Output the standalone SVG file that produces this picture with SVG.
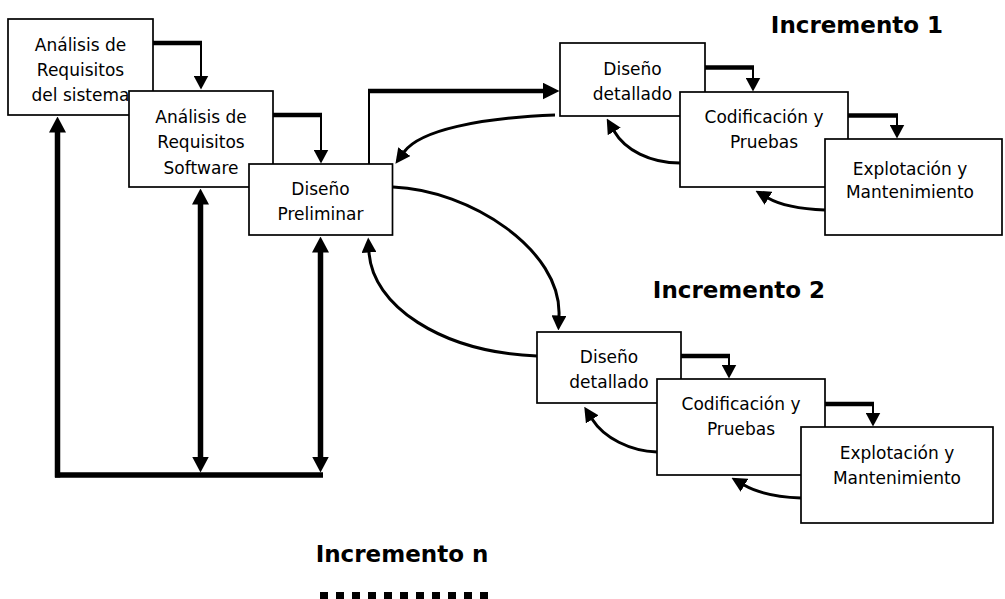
<svg xmlns="http://www.w3.org/2000/svg" width="1005" height="599" viewBox="0 0 1005 599">
<style>
.box{fill:#fff;stroke:#000;stroke-width:1.7}
.lbl{font-family:"DejaVu Sans",sans-serif;font-size:17px;text-anchor:middle;fill:#000}
.hd{font-family:"DejaVu Sans",sans-serif;font-weight:bold;font-size:23px;text-anchor:middle;fill:#000}
.thick{stroke:#000;stroke-width:4.5;fill:none}
.thin{stroke:#000;stroke-width:2;fill:none}
.curve{stroke:#000;stroke-width:3;fill:none}
.fb{stroke:#000;stroke-width:5.5;fill:none}
</style>
<defs>
<marker id="as" markerUnits="userSpaceOnUse" markerWidth="14" markerHeight="15" viewBox="0 0 14 15" refX="0.5" refY="7.5" orient="auto"><path d="M0,0 L14,7.5 L0,15 z" fill="#000"/></marker>
<marker id="ac" markerUnits="userSpaceOnUse" markerWidth="15" markerHeight="15" viewBox="0 0 15 15" refX="0.5" refY="7.5" orient="auto"><path d="M0,0 L15,7.5 L0,15 z" fill="#000"/></marker>
<marker id="af" markerUnits="userSpaceOnUse" markerWidth="16" markerHeight="17" viewBox="0 0 16 17" refX="0.5" refY="8.5" orient="auto-start-reverse"><path d="M0,0 L16,8.5 L0,17 z" fill="#000"/></marker>
<marker id="ah" markerUnits="userSpaceOnUse" markerWidth="17" markerHeight="17" viewBox="0 0 17 17" refX="0.5" refY="8.5" orient="auto"><path d="M0,0 L17,8.5 L0,17 z" fill="#000"/></marker>
</defs>
<rect width="1005" height="599" fill="#fff"/>

<g id="req-sistema">
<rect class="box" x="8" y="19" width="145" height="96"/>
<text class="lbl" x="80.5" y="51">Análisis de</text>
<text class="lbl" x="80.5" y="76">Requisitos</text>
<text class="lbl" x="80.5" y="101">del sistema</text>
</g>
<g id="req-software">
<rect class="box" x="129" y="91" width="144" height="96"/>
<text class="lbl" x="201" y="123">Análisis de</text>
<text class="lbl" x="201" y="148">Requisitos</text>
<text class="lbl" x="201" y="174">Software</text>
</g>
<g id="diseno-preliminar">
<rect class="box" x="249" y="164" width="143.5" height="71"/>
<text class="lbl" x="320.5" y="195">Diseño</text>
<text class="lbl" x="320.5" y="220">Preliminar</text>
</g>

<g id="titulo-inc1"><text class="hd" x="857" y="33">Incremento 1</text></g>
<g id="diseno-detallado-1">
<rect class="box" x="560" y="43" width="145" height="73"/>
<text class="lbl" x="632.5" y="75">Diseño</text>
<text class="lbl" x="632.5" y="100">detallado</text>
</g>
<g id="codificacion-1">
<rect class="box" x="680" y="92" width="168" height="95"/>
<text class="lbl" x="764" y="123">Codificación y</text>
<text class="lbl" x="764" y="148">Pruebas</text>
</g>
<g id="explotacion-1">
<rect class="box" x="825" y="139" width="177" height="96"/>
<text class="lbl" x="910" y="175">Explotación y</text>
<text class="lbl" x="910" y="198">Mantenimiento</text>
</g>

<g id="titulo-inc2"><text class="hd" x="739" y="298">Incremento 2</text></g>
<g id="diseno-detallado-2">
<rect class="box" x="537" y="332" width="144" height="71"/>
<text class="lbl" x="609" y="363">Diseño</text>
<text class="lbl" x="609" y="388">detallado</text>
</g>
<g id="codificacion-2">
<rect class="box" x="657" y="379" width="168" height="96"/>
<text class="lbl" x="741" y="410">Codificación y</text>
<text class="lbl" x="741" y="435">Pruebas</text>
</g>
<g id="explotacion-2">
<rect class="box" x="801" y="427" width="192" height="96"/>
<text class="lbl" x="897" y="459">Explotación y</text>
<text class="lbl" x="897" y="484">Mantenimiento</text>
</g>

<g id="titulo-incn"><text class="hd" x="402" y="562">Incremento n</text></g>
<g id="continuacion"><line x1="320" y1="596" x2="488" y2="596" stroke="#000" stroke-width="8" stroke-dasharray="8 8"/></g>

<g id="connectors">
<path class="thick" d="M153,43 H202"/>
<path class="thin" d="M201,43 V76" marker-end="url(#as)"/>
<path class="thick" d="M273,115 H322"/>
<path class="thin" d="M321,115 V150" marker-end="url(#as)"/>
<path class="thick" d="M705,67.5 H754"/>
<path class="thin" d="M753,67.5 V78" marker-end="url(#as)"/>
<path class="thick" d="M848,115.5 H898"/>
<path class="thin" d="M897,115.5 V125" marker-end="url(#as)"/>
<path class="thick" d="M681,356 H730"/>
<path class="thin" d="M729,356 V365" marker-end="url(#as)"/>
<path class="thick" d="M825,404 H874"/>
<path class="thin" d="M873,404 V413" marker-end="url(#as)"/>

<path class="thin" d="M369,164 V90"/>
<path class="thick" d="M368,91 H543" stroke-width="5" marker-end="url(#ah)"/>

<path class="curve" d="M555,115 C480,118 420,130 404,152" marker-end="url(#ac)"/>
<path class="curve" d="M680,163 C650,163 625,150 614,131" marker-end="url(#ac)"/>
<path class="curve" d="M825,210 C800,209 780,205 768,198" marker-end="url(#ac)"/>
<path class="curve" d="M393,187 C470,190 562,250 559,316" marker-end="url(#ac)"/>
<path class="curve" d="M537,356 C440,352 372,305 369,252" marker-end="url(#ac)"/>
<path class="curve" d="M657,452 C630,451 604,438 592,419" marker-end="url(#ac)"/>
<path class="curve" d="M801,498 C776,497 756,492 744,485" marker-end="url(#ac)"/>

<path class="fb" d="M55,475 H323"/>
<path class="fb" d="M57.5,477.5 V132" marker-end="url(#af)"/>
<path class="fb" d="M200.5,457 V204" marker-start="url(#af)" marker-end="url(#af)"/>
<path class="fb" d="M320.5,457 V252" marker-start="url(#af)" marker-end="url(#af)"/>
</g>
</svg>
